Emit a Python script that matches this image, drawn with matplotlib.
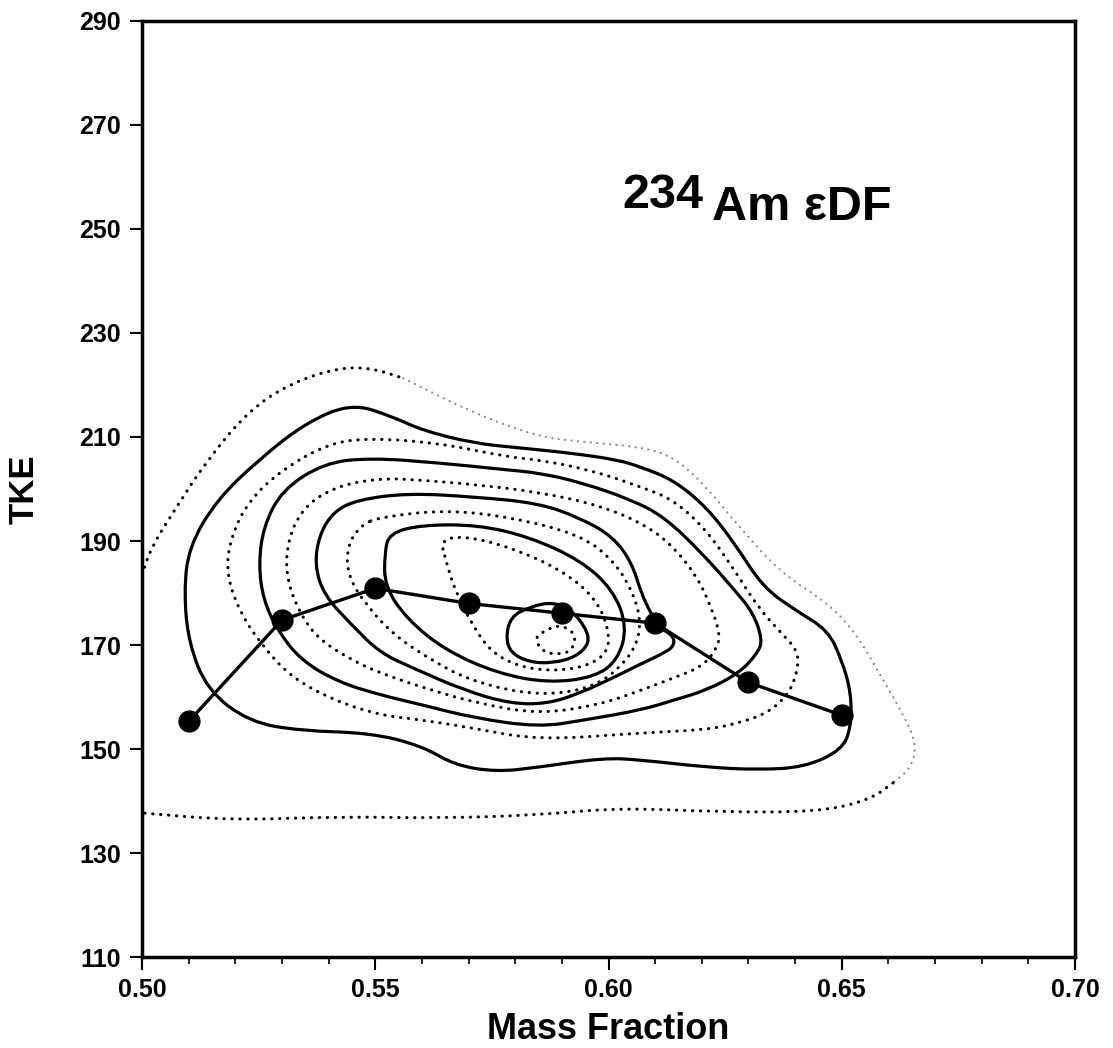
import matplotlib
matplotlib.use("Agg")
import matplotlib.pyplot as plt
import numpy as np
from matplotlib.path import Path
from matplotlib.patches import PathPatch

# mean TKE per mass-fraction bin
mass_frac = [0.51, 0.53, 0.55, 0.57, 0.59, 0.61, 0.63, 0.65]
mean_tke = [155.3, 174.8, 180.9, 178.0, 176.1, 174.2, 162.8, 156.5]

# contour lines (outer -> inner), d = dotted, s = solid
d0_x = [.500, .502, .507, .514, .523, .532, .542, .549, .556, .571, .585, .595, .607,
        .614, .621, .628, .637, .647, .653, .658, .663, .666, .665, .661, .656, .645,
        .624, .602, .585, .564, .542, .519, .500]
d0_y = [183.5, 188.8, 196.0, 205.6, 215.2, 220.4, 223.3, 223.3, 221.3, 214.6, 210.0,
        209.0, 208.1, 206.2, 200.4, 192.7, 183.8, 178.1, 172.3, 164.6, 156.9, 151.2,
        146.5, 143.5, 140.2, 137.9, 137.9, 138.7, 137.3, 136.7, 137.0, 136.3, 137.7]

s1_x = [.545, .554, .560, .571, .581, .592, .602, .607, .614, .621, .627, .633, .640,
        .647, .650, .652, .652, .650, .642, .632, .621, .607, .599, .585, .576, .567,
        .560, .549, .534, .523, .514, .510, .509, .510, .516, .525, .535]
s1_y = [216.5, 213.8, 211.3, 208.8, 207.9, 206.9, 205.6, 204.2, 201.7, 196.5, 189.6,
        181.2, 176.7, 172.9, 167.1, 160.8, 154.2, 149.8, 146.5, 146.0, 146.5, 147.9,
        148.3, 146.5, 145.6, 146.9, 150.6, 153.1, 153.5, 155.2, 161.3, 170.4, 180.0,
        188.8, 197.9, 205.6, 212.7]

d1_x = [.540, .549, .564, .578, .585, .596, .607, .614, .621, .627, .632, .637, .641,
        .640, .638, .634, .628, .621, .607, .585, .571, .560, .551, .541, .532, .526,
        .521, .518, .519, .523, .530]
d1_y = [208.8, 209.8, 208.8, 206.2, 205.6, 203.7, 200.4, 197.9, 192.1, 184.4, 177.3,
        172.3, 168.5, 163.3, 160.0, 156.9, 155.0, 153.7, 153.1, 151.7, 154.0, 155.6,
        156.5, 159.4, 163.8, 169.6, 176.2, 183.8, 190.8, 197.9, 203.7]

s2_x = [.539, .549, .564, .578, .585, .594, .605, .612, .620, .627, .631, .633, .632,
        .628, .621, .614, .607, .595, .585, .571, .560, .551, .542, .534, .529, .526,
        .525, .526, .530]
s2_y = [205.0, 206.0, 205.0, 203.7, 203.1, 201.3, 197.9, 194.6, 187.7, 180.6, 176.2,
        171.0, 168.5, 164.6, 161.3, 159.4, 157.5, 155.6, 154.2, 156.0, 158.5, 160.4,
        162.9, 167.1, 172.9, 178.7, 185.4, 192.7, 199.8]

d2_x = [.551, .560, .572, .585, .598, .608, .614, .619, .622, .624, .623, .620, .614,
        .607, .598, .585, .572, .562, .551, .545, .538, .534, .531, .531, .534, .541]
d2_y = [202.1, 201.7, 200.8, 199.4, 196.9, 193.1, 188.8, 183.1, 177.3, 171.9, 169.0,
        165.8, 163.7, 161.3, 158.5, 156.7, 158.8, 161.3, 164.6, 167.1, 171.0, 175.8,
        182.5, 189.2, 196.0, 200.4]

s3_x = [.546, .557, .571, .585, .594, .601, .605, .607, .609, .611, .614, .614, .612,
        .607, .601, .594, .587, .579, .569, .558, .551, .545, .539, .537, .538, .541]
s3_y = [197.9, 199.2, 198.5, 197.3, 194.4, 190.8, 185.8, 180.0, 176.2, 173.3, 171.7,
        169.8, 168.5, 166.4, 163.7, 160.8, 158.7, 158.7, 161.3, 165.6, 168.5, 173.8,
        179.6, 185.4, 191.2, 195.6]

d3_x = [.551, .565, .579, .594, .601, .605, .607, .606, .603, .598, .590, .581, .570,
        .562, .554, .548, .544, .544, .547]
d3_y = [194.6, 196.0, 194.6, 191.2, 186.3, 180.6, 174.8, 170.0, 166.2, 162.5, 160.6,
        160.8, 163.3, 167.1, 171.9, 177.7, 183.5, 189.2, 193.1]

s4_x = [.552, .553, .560, .572, .583, .594, .601, .604, .602, .597, .587, .576, .565,
        .557, .552]
s4_y = [187.7, 191.5, 193.1, 193.1, 190.8, 186.3, 180.6, 173.5, 167.1, 163.8, 162.7,
        164.6, 169.0, 174.8, 181.2]

d4_x = [.564, .569, .579, .590, .597, .600, .600, .595, .588, .581, .575, .571, .567, .565]
d4_y = [190.2, 191.0, 188.8, 184.4, 179.2, 173.5, 168.5, 165.8, 165.0, 165.8, 168.5,
        173.5, 180.6, 186.7]

s5_x = [.578, .579, .583, .588, .592, .595, .596, .593, .588, .583, .579]
s5_y = [171.5, 175.4, 177.3, 178.3, 176.7, 173.5, 170.4, 167.7, 166.5, 166.7, 168.5]

d5_x = [.584, .587, .589, .592, .593, .592, .590, .586]
d5_y = [171.5, 173.0, 173.8, 173.0, 171.0, 169.0, 168.2, 168.5]


def smooth_path(xs, ys, closed=True):
    # quadratic curves through the midpoints of the traced polygon
    pts = np.column_stack([xs, ys])
    if closed:
        mids = (pts + np.roll(pts, -1, axis=0)) / 2
        verts = [mids[-1]]
        codes = [Path.MOVETO]
        for i in range(len(pts)):
            verts += [pts[i], mids[i]]
            codes += [Path.CURVE3, Path.CURVE3]
    else:
        mids = (pts[:-1] + pts[1:]) / 2
        verts = [pts[0], mids[0]]
        codes = [Path.MOVETO, Path.LINETO]
        for i in range(1, len(pts) - 1):
            verts += [pts[i], mids[i]]
            codes += [Path.CURVE3, Path.CURVE3]
        verts.append(pts[-1])
        codes.append(Path.LINETO)
    return Path(verts, codes)


plt.rcParams["font.family"] = ["Liberation Sans", "DejaVu Sans"]
plt.rcParams["font.weight"] = "bold"

fig = plt.figure(figsize=(11.13, 10.48), dpi=100)
ax = fig.add_axes([0.1276, 0.0868, 0.8383, 0.8932])

solid = dict(edgecolor="black", facecolor="none", lw=2.3, ls="-")
dotted = dict(edgecolor="black", facecolor="none", lw=2.2, ls=(0, (0.1, 2.5)),
              capstyle="round")
faint = dict(edgecolor="0.55", facecolor="none", lw=1.6, ls=(0, (0.1, 2.8)),
             capstyle="round")

# outer dotted contour: dark on the left, faint on the right
ax.add_patch(PathPatch(smooth_path(d0_x[:9], d0_y[:9], closed=False), **dotted))
ax.add_patch(PathPatch(smooth_path(d0_x[8:24], d0_y[8:24], closed=False), **faint))
ax.add_patch(PathPatch(smooth_path(d0_x[23:], d0_y[23:], closed=False), **dotted))

for cx, cy, st in [(s1_x, s1_y, solid), (d1_x, d1_y, dotted), (s2_x, s2_y, solid),
                   (d2_x, d2_y, dotted), (s3_x, s3_y, solid), (d3_x, d3_y, dotted),
                   (s4_x, s4_y, solid), (d4_x, d4_y, dotted), (s5_x, s5_y, solid),
                   (d5_x, d5_y, dotted)]:
    ax.add_patch(PathPatch(smooth_path(cx, cy), **st))

ax.plot(mass_frac, mean_tke, color="black", lw=2.4, marker="o", markersize=15,
        zorder=5)

ax.set_xlim(0.50, 0.70)
ax.set_ylim(110, 290)
ax.set_xticks(np.arange(0.50, 0.701, 0.05))
ax.set_xticklabels(["0.50", "0.55", "0.60", "0.65", "0.70"])
ax.set_xticks(np.arange(0.50, 0.701, 0.01), minor=True)
ax.set_yticks(np.arange(110, 291, 20))
ax.tick_params(which="major", direction="out", length=9, width=1.5, labelsize=18, pad=6)
ax.tick_params(which="minor", direction="out", length=5, width=1.2)
for sp in ax.spines.values():
    sp.set_linewidth(2.5)

ax.set_xlabel("Mass Fraction", fontsize=26, fontweight="bold", labelpad=7)
ax.set_ylabel("TKE", fontsize=25, fontweight="bold", labelpad=28)

ax.text(0.5145, 0.800, "234", transform=ax.transAxes, fontsize=35,
        fontweight="bold", ha="left", va="baseline")
ax.text(0.611, 0.7874, "Am εDF", transform=ax.transAxes, fontsize=35,
        fontweight="bold", ha="left", va="baseline")

fig.savefig("out.png", dpi=100)
